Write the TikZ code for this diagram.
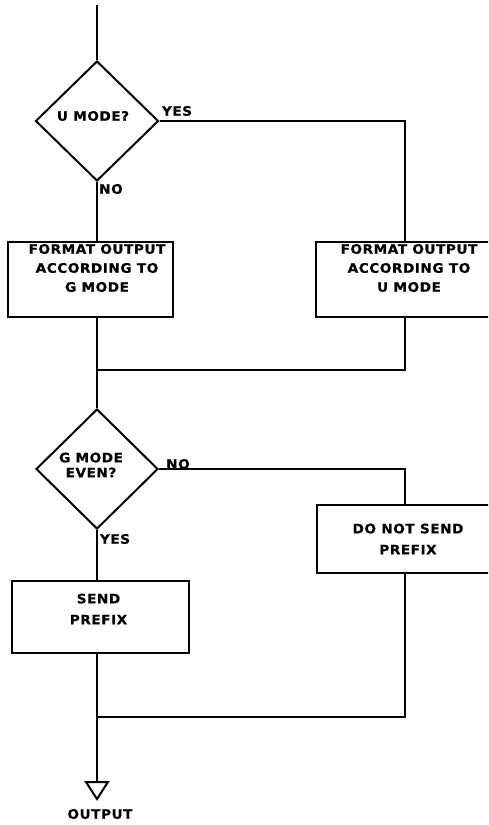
\documentclass[tikz,border=0pt]{standalone}
\usepackage{fontspec}
\setmainfont{DejaVu Sans}[FakeStretch=1.05, LetterSpace=4, FakeBold=0.6]
\usetikzlibrary{shapes.geometric}
\tikzset{
  flow/.style={line width=2pt, line join=miter},
  decision/.style={diamond, draw, line width=2pt, inner sep=0pt},
  procbox/.style={rectangle, draw, line width=2pt, inner sep=0pt},
  txt/.style={font=\bfseries\fontsize{13}{19}\selectfont, align=center, inner sep=0pt},
  lbl/.style={font=\bfseries\fontsize{13}{14}\selectfont, inner sep=0pt},
}
\begin{document}
\begin{tikzpicture}[x=1pt, y=-1pt]
\useasboundingbox (0,0) rectangle (488,825);
\clip (0,0) rectangle (488,825);
% top
\coordinate (start) at (97,5);
\node[decision, minimum width=123pt, minimum height=120pt] (udiam) at (97,121) {};
\node[txt] (udiamtext) at (93,116) {U MODE?};
\node[lbl] (uyes) at (177,111) {YES};
\node[lbl] (uno) at (111,189) {NO};
% boxes row 1
\node[procbox, minimum width=165pt, minimum height=75pt] (gbox) at (90.5,279.5) {};
\node[txt] (gboxtext) at (97,268) {FORMAT OUTPUT\\ACCORDING TO\\G MODE};
\node[procbox, minimum width=178pt, minimum height=75pt] (ubox) at (405,279.5) {};
\node[txt] (uboxtext) at (409,268) {FORMAT OUTPUT\\ACCORDING TO\\U MODE};
\coordinate (merge1) at (97,370);
% second decision
\node[decision, minimum width=122pt, minimum height=120pt] (gdiam) at (97,469) {};
\node[txt, font=\bfseries\fontsize{13}{15}\selectfont] (gdiamtext) at (91,465) {G MODE\\EVEN?};
\node[lbl] (gno) at (178,464) {NO};
\node[lbl] (gyes) at (115,539) {YES};
\node[procbox, minimum width=177pt, minimum height=68pt] (dbox) at (405,539) {};
\node[txt, font=\bfseries\fontsize{13}{21}\selectfont] (dboxtext) at (408,539) {DO NOT SEND\\PREFIX};
\node[procbox, minimum width=177pt, minimum height=72pt] (sbox) at (100.5,617) {};
\node[txt, font=\bfseries\fontsize{13}{21}\selectfont] (sboxtext) at (98.5,609) {SEND\\PREFIX};
\coordinate (merge2) at (97,717);
\coordinate (outtop) at (97,782);
\coordinate (outapex) at (97,799);
\node[lbl] (outlbl) at (100,814) {OUTPUT};
% connectors
\draw[flow] (start) -- (udiam.north);
\draw[flow] (udiam.east) -| (ubox.north);
\draw[flow] (udiam.south) -- (udiam.south |- gbox.north);
\draw[flow] (udiam.south |- gbox.south) -- (merge1);
\draw[flow] (merge1) -| (ubox.south);
\draw[flow] (merge1) -- (gdiam.north);
\draw[flow] (gdiam.east) -| (dbox.north);
\draw[flow] (gdiam.south) -- (gdiam.south |- sbox.north);
\draw[flow] (gdiam.south |- sbox.south) -- (outtop);
\draw[flow] (dbox.south) |- (merge2);
\draw[flow] (outtop) ++(-11,0) -- ++(22,0) -- (outapex) -- cycle;
\end{tikzpicture}
\end{document}
